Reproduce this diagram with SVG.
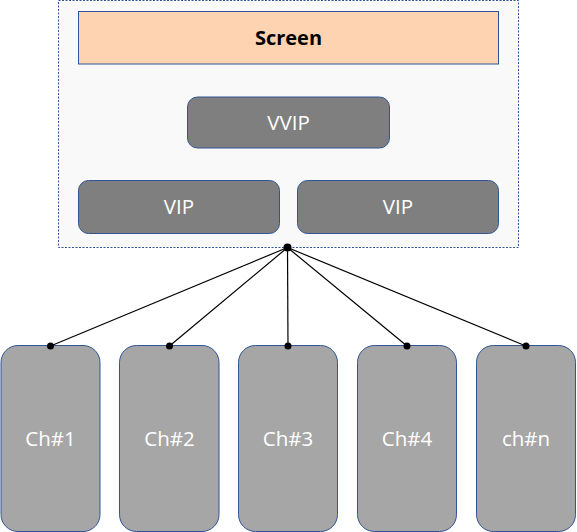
<svg xmlns="http://www.w3.org/2000/svg" width="577" height="532" viewBox="0 0 577 532">
<style>
.box{stroke:#2f5597;stroke-width:1}
.dark{fill:#7f7f7f}
.ch{fill:#a6a6a6}
.lbl{font-family:"Open Sans","Liberation Sans",sans-serif;font-size:20.5px;fill:#ffffff;text-anchor:middle;dominant-baseline:central}
.conn line{stroke:#000;stroke-width:1.2}
.dot{fill:#000}
</style>
<g id="container">
<rect x="58.5" y="0.5" width="460" height="247" fill="#f9f9f9" stroke="#2f5597" stroke-width="1" stroke-dasharray="2,1.5"/>
</g>
<g id="screen">
<rect class="box" x="78.5" y="11.5" width="420" height="52.5" fill="#fdd3b1"/>
<text x="288.5" y="37.5" style="font-family:'Open Sans','Liberation Sans',sans-serif;font-size:20px;font-weight:bold;fill:#000;text-anchor:middle;dominant-baseline:central">Screen</text>
</g>
<g id="vvip">
<rect class="box dark" x="187.5" y="97" width="202" height="51" rx="10"/>
<text class="lbl" x="288.5" y="122">VVIP</text>
</g>
<g id="vip1">
<rect class="box dark" x="78.5" y="180.5" width="201" height="53" rx="10"/>
<text class="lbl" x="179" y="206">VIP</text>
</g>
<g id="vip2">
<rect class="box dark" x="297.5" y="180.5" width="201" height="53" rx="10"/>
<text class="lbl" x="398" y="206">VIP</text>
</g>
<g id="ch1">
<rect class="box ch" x="1" y="345.5" width="99" height="186" rx="17"/>
<text class="lbl" x="50.5" y="437.5">Ch#1</text>
</g>
<g id="ch2">
<rect class="box ch" x="119.5" y="345.5" width="99.5" height="186" rx="17"/>
<text class="lbl" x="169.5" y="437.5">Ch#2</text>
</g>
<g id="ch3">
<rect class="box ch" x="238.5" y="345.5" width="99" height="186" rx="17"/>
<text class="lbl" x="288" y="437.5">Ch#3</text>
</g>
<g id="ch4">
<rect class="box ch" x="357.5" y="345.5" width="99" height="186" rx="17"/>
<text class="lbl" x="407" y="437.5">Ch#4</text>
</g>
<g id="chn">
<rect class="box ch" x="476.5" y="345.5" width="99" height="186" rx="17"/>
<text class="lbl" x="526" y="437.5">ch#n</text>
</g>
<g class="conn" id="connectors">
<line x1="287.5" y1="247.5" x2="50.5" y2="346"/>
<line x1="287.5" y1="247.5" x2="169.5" y2="346"/>
<line x1="287.5" y1="247.5" x2="288" y2="346"/>
<line x1="287.5" y1="247.5" x2="407" y2="346"/>
<line x1="287.5" y1="247.5" x2="526" y2="346"/>
<circle class="dot" cx="287.5" cy="247.5" r="4"/>
<circle class="dot" cx="50.5" cy="346" r="3.5"/>
<circle class="dot" cx="169.5" cy="346" r="3.5"/>
<circle class="dot" cx="288" cy="346" r="3.5"/>
<circle class="dot" cx="407" cy="346" r="3.5"/>
<circle class="dot" cx="526" cy="346" r="3.5"/>
</g>
</svg>
